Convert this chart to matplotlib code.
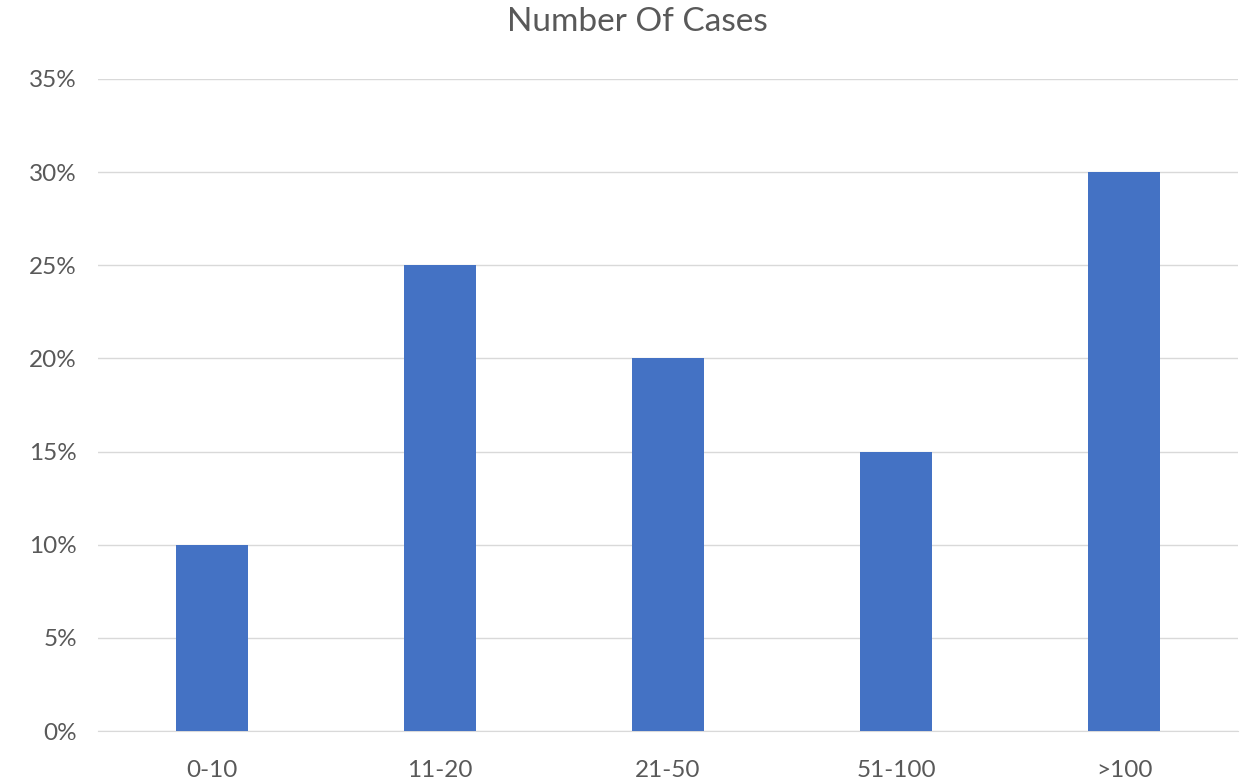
import matplotlib
matplotlib.use("Agg")
import matplotlib.pyplot as plt
from matplotlib.ticker import FuncFormatter

categories = ["0-10", "11-20", "21-50", "51-100", ">100"]
shares = [0.10, 0.25, 0.20, 0.15, 0.30]
yticks = [0.0, 0.05, 0.10, 0.15, 0.20, 0.25, 0.30, 0.35]

bar_color = "#4472C4"
text_color = "#595959"
grid_color = "#D9D9D9"

plt.rcParams["font.family"] = ["Lato", "DejaVu Sans"]

fig = plt.figure(figsize=(12.43, 7.79), dpi=100)
ax = fig.add_axes([0.0788, 0.0616, 0.9172, 0.837])

x = range(len(categories))
ax.bar(x, shares, width=0.316, color=bar_color, zorder=3)

ax.set_xlim(-0.5, len(categories) - 0.5)
ax.set_ylim(0, 0.35)
ax.set_yticks(yticks)
ax.yaxis.set_major_formatter(FuncFormatter(lambda v, _: f"{v * 100:.0f}%"))
ax.set_xticks(list(x))
ax.set_xticklabels(categories)

ax.grid(axis="y", color=grid_color, linewidth=1.0, zorder=0)
for side in ["top", "right", "left"]:
    ax.spines[side].set_visible(False)
ax.spines["bottom"].set_color(grid_color)
ax.tick_params(axis="both", length=0, colors=text_color, labelsize=17.5)
ax.tick_params(axis="y", pad=15)
ax.tick_params(axis="x", pad=21)

fig.text(0.5125, 0.972, "Number Of Cases", ha="center", va="center",
         fontsize=24, color=text_color)

fig.savefig("out.png", dpi=100)
